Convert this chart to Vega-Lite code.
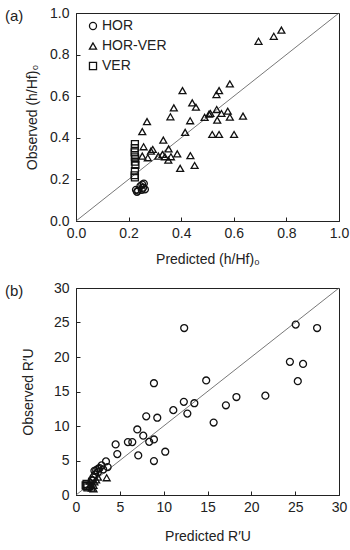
{
  "$schema": "https://vega.github.io/schema/vega-lite/v6.json",
  "padding": {"left": 4, "top": 5, "right": 10, "bottom": 5},
  "config": {
    "font": "Liberation Sans",
    "view": {"stroke": "#222", "strokeWidth": 1},
    "axis": {
      "grid": false, "domainColor": "#222", "tickColor": "#222", "tickSize": -4,
      "labelFontSize": 14, "labelColor": "#222", "titleFontSize": 14, "titleColor": "#222",
      "titleFontWeight": "normal", "labelFlush": false, "labelOverlap": false
    },
    "axisX": {"labelPadding": 9, "titlePadding": 12},
    "axisY": {"labelPadding": 11, "titlePadding": 10},
    "title": {"fontSize": 15, "fontWeight": "normal", "color": "#222", "anchor": "start", "frame": "group"},
    "concat": {"spacing": 13}
  },
  "resolve": {"scale": {"shape": "independent"}, "legend": {"shape": "independent"}},
  "datasets": {
    "a": [
      {"type": "HOR", "pred": 0.228, "obs": 0.150},
      {"type": "HOR", "pred": 0.232, "obs": 0.140},
      {"type": "HOR", "pred": 0.236, "obs": 0.146},
      {"type": "HOR", "pred": 0.245, "obs": 0.168},
      {"type": "HOR", "pred": 0.252, "obs": 0.175},
      {"type": "HOR", "pred": 0.258, "obs": 0.180},
      {"type": "HOR", "pred": 0.262, "obs": 0.152},
      {"type": "HOR", "pred": 0.255, "obs": 0.160},
      {"type": "HOR", "pred": 0.250, "obs": 0.150},
      {"type": "HOR-VER", "pred": 0.694, "obs": 0.864},
      {"type": "HOR-VER", "pred": 0.752, "obs": 0.888},
      {"type": "HOR-VER", "pred": 0.781, "obs": 0.918},
      {"type": "HOR-VER", "pred": 0.405, "obs": 0.627},
      {"type": "HOR-VER", "pred": 0.442, "obs": 0.568},
      {"type": "HOR-VER", "pred": 0.456, "obs": 0.547},
      {"type": "HOR-VER", "pred": 0.372, "obs": 0.544},
      {"type": "HOR-VER", "pred": 0.359, "obs": 0.501},
      {"type": "HOR-VER", "pred": 0.270, "obs": 0.478},
      {"type": "HOR-VER", "pred": 0.252, "obs": 0.430},
      {"type": "HOR-VER", "pred": 0.434, "obs": 0.482},
      {"type": "HOR-VER", "pred": 0.415, "obs": 0.426},
      {"type": "HOR-VER", "pred": 0.332, "obs": 0.389},
      {"type": "HOR-VER", "pred": 0.257, "obs": 0.357},
      {"type": "HOR-VER", "pred": 0.252, "obs": 0.312},
      {"type": "HOR-VER", "pred": 0.273, "obs": 0.304},
      {"type": "HOR-VER", "pred": 0.285, "obs": 0.336},
      {"type": "HOR-VER", "pred": 0.292, "obs": 0.344},
      {"type": "HOR-VER", "pred": 0.313, "obs": 0.312},
      {"type": "HOR-VER", "pred": 0.329, "obs": 0.320},
      {"type": "HOR-VER", "pred": 0.338, "obs": 0.309},
      {"type": "HOR-VER", "pred": 0.352, "obs": 0.347},
      {"type": "HOR-VER", "pred": 0.361, "obs": 0.309},
      {"type": "HOR-VER", "pred": 0.351, "obs": 0.293},
      {"type": "HOR-VER", "pred": 0.385, "obs": 0.323},
      {"type": "HOR-VER", "pred": 0.396, "obs": 0.253},
      {"type": "HOR-VER", "pred": 0.435, "obs": 0.314},
      {"type": "HOR-VER", "pred": 0.451, "obs": 0.267},
      {"type": "HOR-VER", "pred": 0.534, "obs": 0.608},
      {"type": "HOR-VER", "pred": 0.544, "obs": 0.627},
      {"type": "HOR-VER", "pred": 0.585, "obs": 0.659},
      {"type": "HOR-VER", "pred": 0.489, "obs": 0.498},
      {"type": "HOR-VER", "pred": 0.506, "obs": 0.514},
      {"type": "HOR-VER", "pred": 0.511, "obs": 0.517},
      {"type": "HOR-VER", "pred": 0.535, "obs": 0.536},
      {"type": "HOR-VER", "pred": 0.537, "obs": 0.485},
      {"type": "HOR-VER", "pred": 0.553, "obs": 0.517},
      {"type": "HOR-VER", "pred": 0.577, "obs": 0.528},
      {"type": "HOR-VER", "pred": 0.585, "obs": 0.499},
      {"type": "HOR-VER", "pred": 0.635, "obs": 0.504},
      {"type": "HOR-VER", "pred": 0.518, "obs": 0.416},
      {"type": "HOR-VER", "pred": 0.544, "obs": 0.416},
      {"type": "HOR-VER", "pred": 0.601, "obs": 0.416},
      {"type": "VER", "pred": 0.224, "obs": 0.370},
      {"type": "VER", "pred": 0.224, "obs": 0.350},
      {"type": "VER", "pred": 0.223, "obs": 0.330},
      {"type": "VER", "pred": 0.224, "obs": 0.310},
      {"type": "VER", "pred": 0.225, "obs": 0.300},
      {"type": "VER", "pred": 0.224, "obs": 0.285},
      {"type": "VER", "pred": 0.226, "obs": 0.270},
      {"type": "VER", "pred": 0.224, "obs": 0.240},
      {"type": "VER", "pred": 0.223, "obs": 0.220},
      {"type": "VER", "pred": 0.224, "obs": 0.210}
    ],
    "b": [
      {"type": "HOR", "pred": 12.34, "obs": 24.2},
      {"type": "HOR", "pred": 25.06, "obs": 24.7},
      {"type": "HOR", "pred": 27.5, "obs": 24.2},
      {"type": "HOR", "pred": 24.4, "obs": 19.3},
      {"type": "HOR", "pred": 25.9, "obs": 19.0},
      {"type": "HOR", "pred": 25.3, "obs": 16.5},
      {"type": "HOR", "pred": 21.6, "obs": 14.4},
      {"type": "HOR", "pred": 18.3, "obs": 14.2},
      {"type": "HOR", "pred": 17.1, "obs": 13.0},
      {"type": "HOR", "pred": 15.7, "obs": 10.5},
      {"type": "HOR", "pred": 14.85, "obs": 16.6},
      {"type": "HOR", "pred": 13.5, "obs": 13.3},
      {"type": "HOR", "pred": 12.3, "obs": 13.5},
      {"type": "HOR", "pred": 12.7, "obs": 11.8},
      {"type": "HOR", "pred": 11.1, "obs": 12.3},
      {"type": "HOR", "pred": 9.27, "obs": 11.2},
      {"type": "HOR", "pred": 8.89, "obs": 16.2},
      {"type": "HOR", "pred": 8.01, "obs": 11.4},
      {"type": "HOR", "pred": 6.99, "obs": 9.5},
      {"type": "HOR", "pred": 7.67, "obs": 8.6},
      {"type": "HOR", "pred": 8.35, "obs": 7.7},
      {"type": "HOR", "pred": 8.89, "obs": 8.05},
      {"type": "HOR", "pred": 5.92, "obs": 7.67},
      {"type": "HOR", "pred": 6.42, "obs": 7.67},
      {"type": "HOR", "pred": 4.52, "obs": 7.33},
      {"type": "HOR", "pred": 4.71, "obs": 5.93},
      {"type": "HOR", "pred": 7.1, "obs": 5.74},
      {"type": "HOR", "pred": 8.89, "obs": 4.92},
      {"type": "HOR", "pred": 10.18, "obs": 6.27},
      {"type": "HOR", "pred": 3.42, "obs": 4.87},
      {"type": "HOR", "pred": 3.61, "obs": 4.05},
      {"type": "HOR", "pred": 2.92, "obs": 4.29},
      {"type": "HOR", "pred": 2.54, "obs": 3.81},
      {"type": "HOR", "pred": 3.1, "obs": 3.7},
      {"type": "HOR", "pred": 2.7, "obs": 3.9},
      {"type": "HOR", "pred": 2.3, "obs": 3.6},
      {"type": "HOR", "pred": 2.1, "obs": 3.5},
      {"type": "HOR", "pred": 2.5, "obs": 3.3},
      {"type": "HOR", "pred": 2.2, "obs": 3.0},
      {"type": "HOR", "pred": 2.0, "obs": 2.6},
      {"type": "HOR", "pred": 1.9, "obs": 2.1},
      {"type": "HOR", "pred": 1.8, "obs": 2.2},
      {"type": "HOR-VER", "pred": 3.5, "obs": 2.5},
      {"type": "HOR-VER", "pred": 1.5, "obs": 1.2},
      {"type": "HOR-VER", "pred": 1.7, "obs": 1.5},
      {"type": "HOR-VER", "pred": 1.8, "obs": 1.0},
      {"type": "HOR-VER", "pred": 2.0, "obs": 1.4},
      {"type": "HOR-VER", "pred": 2.1, "obs": 1.9},
      {"type": "HOR-VER", "pred": 2.3, "obs": 2.2},
      {"type": "HOR-VER", "pred": 2.5, "obs": 2.6},
      {"type": "HOR-VER", "pred": 1.6, "obs": 2.0},
      {"type": "HOR-VER", "pred": 2.0, "obs": 0.9},
      {"type": "VER", "pred": 1.2, "obs": 1.3},
      {"type": "VER", "pred": 1.2, "obs": 1.6},
      {"type": "VER", "pred": 1.3, "obs": 1.1},
      {"type": "VER", "pred": 1.1, "obs": 1.4}
    ],
    "diagA": [{"x": 0, "y": 0, "x2": 1, "y2": 1}],
    "diagB": [{"x": 0, "y": 0, "x2": 30, "y2": 30}]
  },
  "vconcat": [
    {
      "width": 263, "height": 208,
      "title": {"text": "(a)", "dx": -71, "dy": 22},
      "layer": [
        {
          "data": {"name": "diagA"},
          "mark": {"type": "rule", "color": "#555", "strokeWidth": 0.8},
          "encoding": {
            "x": {"field": "x", "type": "quantitative", "scale": {"domain": [0, 1], "nice": false},
                  "title": "Predicted (h/Hf)₀", "axis": {"values": [0, 0.2, 0.4, 0.6, 0.8, 1.0], "format": ".1f"}},
            "y": {"field": "y", "type": "quantitative", "scale": {"domain": [0, 1], "nice": false},
                  "title": "Observed (h/Hf)₀", "axis": {"values": [0, 0.2, 0.4, 0.6, 0.8, 1.0], "format": ".1f"}},
            "x2": {"field": "x2"}, "y2": {"field": "y2"}
          }
        },
        {
          "data": {"name": "a"},
          "mark": {"type": "point", "filled": false, "color": "#111", "strokeWidth": 1.3, "size": 48, "opacity": 1},
          "encoding": {
            "x": {"field": "pred", "type": "quantitative", "title": "Predicted (h/Hf)₀",
                  "axis": {"values": [0, 0.2, 0.4, 0.6, 0.8, 1.0], "format": ".1f"}},
            "y": {"field": "obs", "type": "quantitative", "title": "Observed (h/Hf)₀",
                  "axis": {"values": [0, 0.2, 0.4, 0.6, 0.8, 1.0], "format": ".1f"}},
            "shape": {"field": "type", "type": "nominal",
                      "scale": {"domain": ["HOR", "HOR-VER", "VER"], "range": ["circle", "triangle-up", "square"]},
                      "legend": {"title": null, "orient": "none", "legendX": 10, "legendY": 6,
                                 "labelFontSize": 14, "labelColor": "#222", "symbolSize": 50,
                                 "symbolStrokeColor": "#111", "symbolFillColor": "white", "symbolStrokeWidth": 1.3,
                                 "rowPadding": 6, "labelOffset": 2}}
          }
        }
      ]
    },
    {
      "width": 263, "height": 207,
      "title": {"text": "(b)", "dx": -71, "dy": 22},
      "layer": [
        {
          "data": {"name": "diagB"},
          "mark": {"type": "rule", "color": "#555", "strokeWidth": 0.8},
          "encoding": {
            "x": {"field": "x", "type": "quantitative", "scale": {"domain": [0, 30], "nice": false},
                  "title": "Predicted R′U", "axis": {"values": [0, 5, 10, 15, 20, 25, 30], "titlePadding": 15}},
            "y": {"field": "y", "type": "quantitative", "scale": {"domain": [0, 30], "nice": false},
                  "title": "Observed R′U", "axis": {"values": [0, 5, 10, 15, 20, 25, 30], "titlePadding": 18}},
            "x2": {"field": "x2"}, "y2": {"field": "y2"}
          }
        },
        {
          "data": {"name": "b"},
          "mark": {"type": "point", "filled": false, "color": "#111", "strokeWidth": 1.3, "size": 48, "opacity": 1},
          "encoding": {
            "x": {"field": "pred", "type": "quantitative", "title": "Predicted R′U",
                  "axis": {"values": [0, 5, 10, 15, 20, 25, 30], "titlePadding": 15}},
            "y": {"field": "obs", "type": "quantitative", "title": "Observed R′U",
                  "axis": {"values": [0, 5, 10, 15, 20, 25, 30], "titlePadding": 18}},
            "shape": {"field": "type", "type": "nominal",
                      "scale": {"domain": ["HOR", "HOR-VER", "VER"], "range": ["circle", "triangle-up", "square"]},
                      "legend": null}
          }
        }
      ]
    }
  ]
}
